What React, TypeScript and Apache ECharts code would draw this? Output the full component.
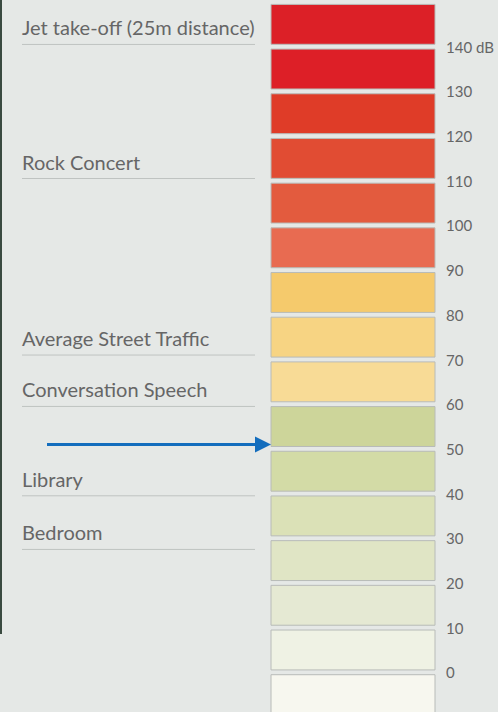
import React, { useEffect, useRef } from "react";
import * as echarts from "echarts";

// lower bound (dB) of each 10 dB block, bottom to top
const blockLevels = [-10, 0, 10, 20, 30, 40, 50, 60, 70, 80, 90, 100, 110, 120, 130, 140];
const blockColors = [
  "#f7f7ef", "#eff2e4", "#e5e9d3", "#e0e5c5", "#dbe1b7", "#d3dba6", "#cdd59a",
  "#f8db96", "#f7d483", "#f5ca6c",
  "#e86b51", "#e35b3e", "#e14c33", "#df3c28", "#dd1f27", "#dc2027",
];
const tickLabels = ["0", "10", "20", "30", "40", "50", "60", "70", "80", "90", "100", "110", "120", "130", "140 dB"];
const annotationNames = [
  "Jet take-off (25m distance)",
  "Rock Concert",
  "Average Street Traffic",
  "Conversation Speech",
  "Library",
  "Bedroom",
];
const annotationLevels = [140.5, 110.5, 71, 59.5, 39.5, 27.5];
const pointerLevel = [51];

export default function App() {
  const ref = useRef<HTMLDivElement>(null);
  useEffect(() => {
    if (!ref.current) return;
    const chart = echarts.init(ref.current, null, { renderer: "svg" });
    const textColor = "#666666";
    chart.setOption({
      animation: false,
      backgroundColor: "#e5e8e6",
      graphic: [
        { type: "rect", shape: { x: 0, y: 0, width: 2, height: 634 }, style: { fill: "#3a4a40" } },
      ],
      grid: [
        { left: 271, right: 63, top: 2, bottom: 0 },
        { left: 22, width: 233, top: 2, bottom: 0 },
      ],
      xAxis: [
        { type: "value", gridIndex: 0, min: 0, max: 1, show: false },
        { type: "value", gridIndex: 1, min: 0, max: 1, show: false },
      ],
      yAxis: [
        {
          type: "value",
          gridIndex: 0,
          position: "right",
          min: -10,
          max: 150,
          interval: 10,
          axisLine: { show: false },
          axisTick: { show: false },
          splitLine: { show: false },
          axisLabel: {
            margin: 11,
            color: textColor,
            fontFamily: "Lato",
            fontSize: 15,
            formatter: (v: number) => {
              const i = Math.round(v / 10);
              return v >= 0 && i < tickLabels.length ? tickLabels[i] : "";
            },
          },
        },
        { type: "value", gridIndex: 1, min: -10, max: 150, show: false },
      ],
      series: [
        {
          type: "custom",
          xAxisIndex: 0,
          yAxisIndex: 0,
          data: blockLevels.map((l, i) => [l, i]),
          renderItem: (params: any, api: any) => {
            const low = api.value(0);
            const idx = api.value(1);
            const p1 = api.coord([0, low + 10]);
            const p2 = api.coord([1, low]);
            return {
              type: "rect",
              shape: { x: p1[0], y: p1[1] + 2.4, width: p2[0] - p1[0], height: p2[1] - p1[1] - 4.8 },
              style: { fill: blockColors[idx], stroke: "#b8bbb8", lineWidth: 1 },
            };
          },
        },
        {
          type: "custom",
          xAxisIndex: 0,
          yAxisIndex: 0,
          data: pointerLevel.map((v) => [0, v]),
          renderItem: (params: any, api: any) => {
            const tip = api.coord([0, api.value(1)]);
            return {
              type: "group",
              children: [
                {
                  type: "line",
                  shape: { x1: tip[0] - 224, y1: tip[1], x2: tip[0] - 14, y2: tip[1] },
                  style: { stroke: "#136dbd", lineWidth: 3 },
                },
                {
                  type: "polygon",
                  shape: { points: [[tip[0], tip[1]], [tip[0] - 16, tip[1] - 8], [tip[0] - 16, tip[1] + 8]] },
                  style: { fill: "#136dbd" },
                },
              ],
            };
          },
        },
        {
          type: "custom",
          xAxisIndex: 1,
          yAxisIndex: 1,
          data: annotationLevels.map((v, i) => [v, i]),
          renderItem: (params: any, api: any) => {
            const v = api.value(0);
            const i = api.value(1);
            const a = api.coord([0, v]);
            const b = api.coord([1, v]);
            return {
              type: "group",
              children: [
                {
                  type: "line",
                  shape: { x1: a[0], y1: a[1], x2: b[0], y2: b[1] },
                  style: { stroke: "#bfc3c1", lineWidth: 1 },
                },
                {
                  type: "text",
                  x: a[0],
                  y: a[1] - 17,
                  style: {
                    text: annotationNames[i],
                    fill: textColor,
                    font: "20px Lato",
                    textAlign: "left",
                    textVerticalAlign: "middle",
                  },
                },
              ],
            };
          },
        },
      ],
    });
    return () => chart.dispose();
  }, []);
  return (
    <div
      ref={ref}
      style={{ position: "fixed", left: 0, top: 0, width: 498, height: 717 }}
    />
  );
}
